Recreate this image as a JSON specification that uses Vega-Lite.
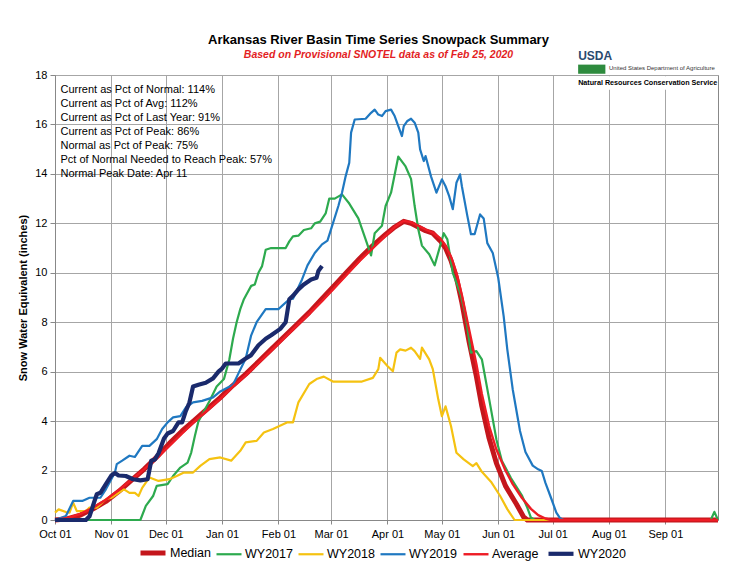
{
  "$schema": "https://vega.github.io/schema/vega-lite/v6.json",
  "autosize": {"type": "none"},
  "width": 663,
  "height": 445,
  "padding": {"left": 55, "top": 75, "right": 26, "bottom": 56},
  "background": "white",
  "title": {
    "text": "Arkansas River Basin Time Series Snowpack Summary",
    "subtitle": "Based on Provisional SNOTEL data as of Feb 25, 2020",
    "anchor": "middle",
    "frame": "group",
    "dx": -8,
    "offset": -11,
    "font": "Liberation Sans",
    "fontSize": 13,
    "fontWeight": "bold",
    "color": "#000000",
    "subtitleFont": "Liberation Sans",
    "subtitleFontSize": 10.5,
    "subtitleFontStyle": "italic",
    "subtitleFontWeight": "bold",
    "subtitleColor": "#E31E24",
    "subtitlePadding": 3
  },
  "datasets": {
    "swe": [
      {"s":"Median","d":"2019-10-01","v":0},{"s":"Median","d":"2019-10-08","v":0.05},{"s":"Median","d":"2019-10-15","v":0.2},{"s":"Median","d":"2019-10-22","v":0.45},{"s":"Median","d":"2019-10-29","v":0.75},{"s":"Median","d":"2019-11-05","v":1.15},{"s":"Median","d":"2019-11-12","v":1.6},{"s":"Median","d":"2019-11-19","v":2.05},{"s":"Median","d":"2019-11-26","v":2.55},{"s":"Median","d":"2019-12-03","v":3.1},{"s":"Median","d":"2019-12-10","v":3.6},{"s":"Median","d":"2019-12-17","v":4.05},{"s":"Median","d":"2019-12-24","v":4.5},{"s":"Median","d":"2019-12-31","v":4.95},{"s":"Median","d":"2020-01-07","v":5.45},{"s":"Median","d":"2020-01-14","v":5.9},{"s":"Median","d":"2020-01-21","v":6.4},{"s":"Median","d":"2020-01-28","v":6.9},{"s":"Median","d":"2020-02-04","v":7.4},{"s":"Median","d":"2020-02-11","v":7.9},{"s":"Median","d":"2020-02-18","v":8.4},{"s":"Median","d":"2020-02-25","v":8.95},{"s":"Median","d":"2020-03-03","v":9.5},{"s":"Median","d":"2020-03-10","v":10.05},{"s":"Median","d":"2020-03-17","v":10.6},{"s":"Median","d":"2020-03-24","v":11.1},{"s":"Median","d":"2020-03-31","v":11.55},{"s":"Median","d":"2020-04-05","v":11.85},{"s":"Median","d":"2020-04-10","v":12.08},{"s":"Median","d":"2020-04-14","v":12.0},{"s":"Median","d":"2020-04-18","v":11.85},{"s":"Median","d":"2020-04-22","v":11.7},{"s":"Median","d":"2020-04-26","v":11.6},{"s":"Median","d":"2020-04-30","v":11.3},{"s":"Median","d":"2020-05-03","v":11.0},{"s":"Median","d":"2020-05-06","v":10.5},{"s":"Median","d":"2020-05-09","v":9.8},{"s":"Median","d":"2020-05-12","v":8.8},{"s":"Median","d":"2020-05-16","v":7.2},{"s":"Median","d":"2020-05-20","v":5.8},{"s":"Median","d":"2020-05-23","v":4.6},{"s":"Median","d":"2020-05-27","v":3.3},{"s":"Median","d":"2020-05-31","v":2.3},{"s":"Median","d":"2020-06-05","v":1.38},{"s":"Median","d":"2020-06-11","v":0.65},{"s":"Median","d":"2020-06-15","v":0.12},{"s":"Median","d":"2020-06-17","v":0},{"s":"Median","d":"2020-09-30","v":0},

      {"s":"WY2017","d":"2019-10-01","v":0},{"s":"WY2017","d":"2019-11-17","v":0},{"s":"WY2017","d":"2019-11-20","v":0.57},{"s":"WY2017","d":"2019-11-24","v":0.97},{"s":"WY2017","d":"2019-11-26","v":1.38},{"s":"WY2017","d":"2019-12-02","v":1.45},{"s":"WY2017","d":"2019-12-05","v":1.78},{"s":"WY2017","d":"2019-12-09","v":2.12},{"s":"WY2017","d":"2019-12-13","v":2.32},{"s":"WY2017","d":"2019-12-15","v":2.73},{"s":"WY2017","d":"2019-12-17","v":3.4},{"s":"WY2017","d":"2019-12-19","v":4.0},{"s":"WY2017","d":"2019-12-22","v":4.4},{"s":"WY2017","d":"2019-12-25","v":4.8},{"s":"WY2017","d":"2019-12-29","v":5.4},{"s":"WY2017","d":"2020-01-02","v":5.7},{"s":"WY2017","d":"2020-01-05","v":6.5},{"s":"WY2017","d":"2020-01-07","v":7.33},{"s":"WY2017","d":"2020-01-09","v":8.0},{"s":"WY2017","d":"2020-01-11","v":8.53},{"s":"WY2017","d":"2020-01-13","v":8.93},{"s":"WY2017","d":"2020-01-15","v":9.2},{"s":"WY2017","d":"2020-01-17","v":9.47},{"s":"WY2017","d":"2020-01-19","v":9.53},{"s":"WY2017","d":"2020-01-21","v":10.0},{"s":"WY2017","d":"2020-01-23","v":10.27},{"s":"WY2017","d":"2020-01-25","v":10.93},{"s":"WY2017","d":"2020-01-28","v":11.0},{"s":"WY2017","d":"2020-02-05","v":11.0},{"s":"WY2017","d":"2020-02-07","v":11.27},{"s":"WY2017","d":"2020-02-09","v":11.47},{"s":"WY2017","d":"2020-02-12","v":11.5},{"s":"WY2017","d":"2020-02-15","v":11.73},{"s":"WY2017","d":"2020-02-19","v":11.8},{"s":"WY2017","d":"2020-02-21","v":12.0},{"s":"WY2017","d":"2020-02-24","v":12.07},{"s":"WY2017","d":"2020-02-27","v":12.4},{"s":"WY2017","d":"2020-02-29","v":13.0},{"s":"WY2017","d":"2020-03-03","v":13.0},{"s":"WY2017","d":"2020-03-07","v":13.17},{"s":"WY2017","d":"2020-03-11","v":12.8},{"s":"WY2017","d":"2020-03-16","v":12.2},{"s":"WY2017","d":"2020-03-20","v":11.35},{"s":"WY2017","d":"2020-03-23","v":10.7},{"s":"WY2017","d":"2020-03-25","v":11.6},{"s":"WY2017","d":"2020-03-29","v":11.9},{"s":"WY2017","d":"2020-03-31","v":12.7},{"s":"WY2017","d":"2020-04-03","v":13.24},{"s":"WY2017","d":"2020-04-07","v":14.7},{"s":"WY2017","d":"2020-04-11","v":14.3},{"s":"WY2017","d":"2020-04-14","v":13.8},{"s":"WY2017","d":"2020-04-16","v":12.7},{"s":"WY2017","d":"2020-04-18","v":11.76},{"s":"WY2017","d":"2020-04-20","v":11.1},{"s":"WY2017","d":"2020-04-24","v":10.75},{"s":"WY2017","d":"2020-04-27","v":10.3},{"s":"WY2017","d":"2020-04-30","v":11.08},{"s":"WY2017","d":"2020-05-02","v":11.6},{"s":"WY2017","d":"2020-05-04","v":11.35},{"s":"WY2017","d":"2020-05-07","v":10.0},{"s":"WY2017","d":"2020-05-11","v":9.2},{"s":"WY2017","d":"2020-05-14","v":8.3},{"s":"WY2017","d":"2020-05-17","v":6.77},{"s":"WY2017","d":"2020-05-20","v":6.83},{"s":"WY2017","d":"2020-05-23","v":6.5},{"s":"WY2017","d":"2020-05-27","v":4.9},{"s":"WY2017","d":"2020-05-31","v":3.26},{"s":"WY2017","d":"2020-06-03","v":2.4},{"s":"WY2017","d":"2020-06-08","v":1.7},{"s":"WY2017","d":"2020-06-14","v":1.0},{"s":"WY2017","d":"2020-06-17","v":0.5},{"s":"WY2017","d":"2020-06-19","v":0.1},{"s":"WY2017","d":"2020-06-21","v":0},{"s":"WY2017","d":"2020-09-26","v":0},{"s":"WY2017","d":"2020-09-28","v":0.33},{"s":"WY2017","d":"2020-09-30","v":0},

      {"s":"WY2018","d":"2019-10-01","v":0.3},{"s":"WY2018","d":"2019-10-03","v":0.43},{"s":"WY2018","d":"2019-10-07","v":0.32},{"s":"WY2018","d":"2019-10-09","v":0.3},{"s":"WY2018","d":"2019-10-11","v":0.7},{"s":"WY2018","d":"2019-10-13","v":0.36},{"s":"WY2018","d":"2019-10-18","v":0.36},{"s":"WY2018","d":"2019-10-20","v":0.5},{"s":"WY2018","d":"2019-10-24","v":0.5},{"s":"WY2018","d":"2019-10-27","v":0.7},{"s":"WY2018","d":"2019-10-29","v":0.84},{"s":"WY2018","d":"2019-11-01","v":0.9},{"s":"WY2018","d":"2019-11-05","v":1.1},{"s":"WY2018","d":"2019-11-08","v":1.24},{"s":"WY2018","d":"2019-11-11","v":1.1},{"s":"WY2018","d":"2019-11-14","v":1.1},{"s":"WY2018","d":"2019-11-16","v":0.97},{"s":"WY2018","d":"2019-11-18","v":1.3},{"s":"WY2018","d":"2019-11-22","v":1.72},{"s":"WY2018","d":"2019-11-27","v":1.58},{"s":"WY2018","d":"2019-12-03","v":1.65},{"s":"WY2018","d":"2019-12-07","v":1.78},{"s":"WY2018","d":"2019-12-11","v":1.92},{"s":"WY2018","d":"2019-12-16","v":1.92},{"s":"WY2018","d":"2019-12-20","v":2.19},{"s":"WY2018","d":"2019-12-25","v":2.46},{"s":"WY2018","d":"2019-12-31","v":2.53},{"s":"WY2018","d":"2020-01-06","v":2.4},{"s":"WY2018","d":"2020-01-11","v":2.8},{"s":"WY2018","d":"2020-01-14","v":3.14},{"s":"WY2018","d":"2020-01-20","v":3.2},{"s":"WY2018","d":"2020-01-24","v":3.54},{"s":"WY2018","d":"2020-01-29","v":3.68},{"s":"WY2018","d":"2020-02-06","v":3.95},{"s":"WY2018","d":"2020-02-09","v":3.95},{"s":"WY2018","d":"2020-02-12","v":4.76},{"s":"WY2018","d":"2020-02-18","v":5.5},{"s":"WY2018","d":"2020-02-22","v":5.7},{"s":"WY2018","d":"2020-02-26","v":5.8},{"s":"WY2018","d":"2020-03-02","v":5.6},{"s":"WY2018","d":"2020-03-10","v":5.6},{"s":"WY2018","d":"2020-03-18","v":5.6},{"s":"WY2018","d":"2020-03-24","v":5.75},{"s":"WY2018","d":"2020-03-27","v":6.1},{"s":"WY2018","d":"2020-03-28","v":6.56},{"s":"WY2018","d":"2020-04-01","v":6.23},{"s":"WY2018","d":"2020-04-04","v":6.02},{"s":"WY2018","d":"2020-04-06","v":6.77},{"s":"WY2018","d":"2020-04-08","v":6.9},{"s":"WY2018","d":"2020-04-11","v":6.85},{"s":"WY2018","d":"2020-04-14","v":6.97},{"s":"WY2018","d":"2020-04-16","v":6.83},{"s":"WY2018","d":"2020-04-19","v":6.52},{"s":"WY2018","d":"2020-04-20","v":6.97},{"s":"WY2018","d":"2020-04-24","v":6.5},{"s":"WY2018","d":"2020-04-26","v":6.1},{"s":"WY2018","d":"2020-04-29","v":4.88},{"s":"WY2018","d":"2020-05-01","v":4.2},{"s":"WY2018","d":"2020-05-03","v":4.6},{"s":"WY2018","d":"2020-05-06","v":3.8},{"s":"WY2018","d":"2020-05-09","v":2.72},{"s":"WY2018","d":"2020-05-13","v":2.45},{"s":"WY2018","d":"2020-05-18","v":2.18},{"s":"WY2018","d":"2020-05-20","v":2.3},{"s":"WY2018","d":"2020-05-23","v":1.95},{"s":"WY2018","d":"2020-05-28","v":1.55},{"s":"WY2018","d":"2020-06-02","v":0.98},{"s":"WY2018","d":"2020-06-06","v":0.44},{"s":"WY2018","d":"2020-06-10","v":0},{"s":"WY2018","d":"2020-09-30","v":0},

      {"s":"WY2019","d":"2019-10-01","v":0},{"s":"WY2019","d":"2019-10-07","v":0.16},{"s":"WY2019","d":"2019-10-11","v":0.77},{"s":"WY2019","d":"2019-10-16","v":0.77},{"s":"WY2019","d":"2019-10-20","v":0.9},{"s":"WY2019","d":"2019-10-26","v":0.9},{"s":"WY2019","d":"2019-10-29","v":1.24},{"s":"WY2019","d":"2019-11-01","v":1.65},{"s":"WY2019","d":"2019-11-03","v":1.92},{"s":"WY2019","d":"2019-11-04","v":2.26},{"s":"WY2019","d":"2019-11-07","v":2.4},{"s":"WY2019","d":"2019-11-11","v":2.6},{"s":"WY2019","d":"2019-11-14","v":2.55},{"s":"WY2019","d":"2019-11-18","v":3.0},{"s":"WY2019","d":"2019-11-22","v":3.0},{"s":"WY2019","d":"2019-11-26","v":3.27},{"s":"WY2019","d":"2019-11-29","v":3.68},{"s":"WY2019","d":"2019-12-02","v":3.95},{"s":"WY2019","d":"2019-12-05","v":4.15},{"s":"WY2019","d":"2019-12-09","v":4.2},{"s":"WY2019","d":"2019-12-12","v":4.55},{"s":"WY2019","d":"2019-12-16","v":4.76},{"s":"WY2019","d":"2019-12-21","v":4.82},{"s":"WY2019","d":"2019-12-27","v":4.96},{"s":"WY2019","d":"2019-12-31","v":5.2},{"s":"WY2019","d":"2020-01-07","v":5.47},{"s":"WY2019","d":"2020-01-10","v":5.93},{"s":"WY2019","d":"2020-01-14","v":6.53},{"s":"WY2019","d":"2020-01-17","v":7.47},{"s":"WY2019","d":"2020-01-20","v":8.0},{"s":"WY2019","d":"2020-01-25","v":8.53},{"s":"WY2019","d":"2020-02-01","v":8.53},{"s":"WY2019","d":"2020-02-07","v":8.93},{"s":"WY2019","d":"2020-02-09","v":8.95},{"s":"WY2019","d":"2020-02-14","v":9.73},{"s":"WY2019","d":"2020-02-17","v":10.3},{"s":"WY2019","d":"2020-02-21","v":10.8},{"s":"WY2019","d":"2020-02-25","v":11.15},{"s":"WY2019","d":"2020-02-28","v":11.3},{"s":"WY2019","d":"2020-03-02","v":12.0},{"s":"WY2019","d":"2020-03-05","v":12.7},{"s":"WY2019","d":"2020-03-07","v":13.24},{"s":"WY2019","d":"2020-03-09","v":13.9},{"s":"WY2019","d":"2020-03-11","v":14.45},{"s":"WY2019","d":"2020-03-12","v":15.67},{"s":"WY2019","d":"2020-03-14","v":16.2},{"s":"WY2019","d":"2020-03-20","v":16.23},{"s":"WY2019","d":"2020-03-23","v":16.47},{"s":"WY2019","d":"2020-03-25","v":16.6},{"s":"WY2019","d":"2020-03-27","v":16.4},{"s":"WY2019","d":"2020-03-29","v":16.34},{"s":"WY2019","d":"2020-03-31","v":16.54},{"s":"WY2019","d":"2020-04-03","v":16.6},{"s":"WY2019","d":"2020-04-05","v":16.34},{"s":"WY2019","d":"2020-04-07","v":15.93},{"s":"WY2019","d":"2020-04-09","v":15.53},{"s":"WY2019","d":"2020-04-10","v":15.93},{"s":"WY2019","d":"2020-04-12","v":16.14},{"s":"WY2019","d":"2020-04-14","v":16.23},{"s":"WY2019","d":"2020-04-16","v":16.07},{"s":"WY2019","d":"2020-04-18","v":15.67},{"s":"WY2019","d":"2020-04-19","v":14.99},{"s":"WY2019","d":"2020-04-21","v":14.52},{"s":"WY2019","d":"2020-04-22","v":14.72},{"s":"WY2019","d":"2020-04-25","v":13.9},{"s":"WY2019","d":"2020-04-28","v":13.24},{"s":"WY2019","d":"2020-05-01","v":13.78},{"s":"WY2019","d":"2020-05-03","v":13.5},{"s":"WY2019","d":"2020-05-05","v":13.1},{"s":"WY2019","d":"2020-05-07","v":12.57},{"s":"WY2019","d":"2020-05-09","v":13.64},{"s":"WY2019","d":"2020-05-11","v":13.98},{"s":"WY2019","d":"2020-05-12","v":13.5},{"s":"WY2019","d":"2020-05-15","v":12.3},{"s":"WY2019","d":"2020-05-17","v":11.56},{"s":"WY2019","d":"2020-05-19","v":11.56},{"s":"WY2019","d":"2020-05-22","v":12.36},{"s":"WY2019","d":"2020-05-24","v":12.2},{"s":"WY2019","d":"2020-05-26","v":11.2},{"s":"WY2019","d":"2020-05-29","v":10.8},{"s":"WY2019","d":"2020-06-01","v":9.8},{"s":"WY2019","d":"2020-06-04","v":8.25},{"s":"WY2019","d":"2020-06-06","v":6.9},{"s":"WY2019","d":"2020-06-09","v":5.28},{"s":"WY2019","d":"2020-06-13","v":3.6},{"s":"WY2019","d":"2020-06-16","v":2.75},{"s":"WY2019","d":"2020-06-20","v":2.2},{"s":"WY2019","d":"2020-06-23","v":2.05},{"s":"WY2019","d":"2020-06-25","v":1.98},{"s":"WY2019","d":"2020-06-27","v":1.5},{"s":"WY2019","d":"2020-06-30","v":0.91},{"s":"WY2019","d":"2020-07-03","v":0.3},{"s":"WY2019","d":"2020-07-05","v":0.08},{"s":"WY2019","d":"2020-07-07","v":0},{"s":"WY2019","d":"2020-09-30","v":0},

      {"s":"Average","d":"2019-10-01","v":0},{"s":"Average","d":"2019-10-08","v":0.08},{"s":"Average","d":"2019-10-15","v":0.25},{"s":"Average","d":"2019-10-22","v":0.5},{"s":"Average","d":"2019-10-29","v":0.82},{"s":"Average","d":"2019-11-05","v":1.2},{"s":"Average","d":"2019-11-12","v":1.62},{"s":"Average","d":"2019-11-19","v":2.05},{"s":"Average","d":"2019-11-26","v":2.5},{"s":"Average","d":"2019-12-03","v":3.0},{"s":"Average","d":"2019-12-10","v":3.5},{"s":"Average","d":"2019-12-17","v":4.0},{"s":"Average","d":"2019-12-24","v":4.45},{"s":"Average","d":"2019-12-31","v":4.9},{"s":"Average","d":"2020-01-07","v":5.4},{"s":"Average","d":"2020-01-14","v":5.85},{"s":"Average","d":"2020-01-21","v":6.35},{"s":"Average","d":"2020-01-28","v":6.85},{"s":"Average","d":"2020-02-04","v":7.35},{"s":"Average","d":"2020-02-11","v":7.85},{"s":"Average","d":"2020-02-18","v":8.35},{"s":"Average","d":"2020-02-25","v":8.85},{"s":"Average","d":"2020-03-03","v":9.4},{"s":"Average","d":"2020-03-10","v":9.95},{"s":"Average","d":"2020-03-17","v":10.5},{"s":"Average","d":"2020-03-24","v":11.0},{"s":"Average","d":"2020-03-31","v":11.5},{"s":"Average","d":"2020-04-05","v":11.85},{"s":"Average","d":"2020-04-10","v":12.1},{"s":"Average","d":"2020-04-14","v":12.05},{"s":"Average","d":"2020-04-18","v":11.9},{"s":"Average","d":"2020-04-22","v":11.75},{"s":"Average","d":"2020-04-26","v":11.62},{"s":"Average","d":"2020-04-30","v":11.4},{"s":"Average","d":"2020-05-03","v":11.1},{"s":"Average","d":"2020-05-06","v":10.65},{"s":"Average","d":"2020-05-09","v":10.0},{"s":"Average","d":"2020-05-12","v":9.1},{"s":"Average","d":"2020-05-16","v":7.7},{"s":"Average","d":"2020-05-20","v":6.3},{"s":"Average","d":"2020-05-23","v":5.1},{"s":"Average","d":"2020-05-27","v":3.8},{"s":"Average","d":"2020-05-31","v":2.85},{"s":"Average","d":"2020-06-05","v":2.0},{"s":"Average","d":"2020-06-09","v":1.45},{"s":"Average","d":"2020-06-14","v":0.9},{"s":"Average","d":"2020-06-19","v":0.45},{"s":"Average","d":"2020-06-23","v":0.2},{"s":"Average","d":"2020-06-27","v":0.06},{"s":"Average","d":"2020-06-30","v":0},{"s":"Average","d":"2020-09-30","v":0},

      {"s":"WY2020","d":"2019-10-01","v":0},{"s":"WY2020","d":"2019-10-18","v":0},{"s":"WY2020","d":"2019-10-20","v":0.15},{"s":"WY2020","d":"2019-10-22","v":0.6},{"s":"WY2020","d":"2019-10-24","v":1.04},{"s":"WY2020","d":"2019-10-26","v":1.1},{"s":"WY2020","d":"2019-10-29","v":1.45},{"s":"WY2020","d":"2019-11-01","v":1.8},{"s":"WY2020","d":"2019-11-03","v":1.9},{"s":"WY2020","d":"2019-11-05","v":1.8},{"s":"WY2020","d":"2019-11-09","v":1.78},{"s":"WY2020","d":"2019-11-13","v":1.65},{"s":"WY2020","d":"2019-11-17","v":1.6},{"s":"WY2020","d":"2019-11-21","v":1.65},{"s":"WY2020","d":"2019-11-23","v":2.4},{"s":"WY2020","d":"2019-11-25","v":2.45},{"s":"WY2020","d":"2019-11-27","v":2.7},{"s":"WY2020","d":"2019-11-30","v":3.3},{"s":"WY2020","d":"2019-12-02","v":3.5},{"s":"WY2020","d":"2019-12-05","v":3.6},{"s":"WY2020","d":"2019-12-08","v":3.95},{"s":"WY2020","d":"2019-12-10","v":3.95},{"s":"WY2020","d":"2019-12-12","v":4.4},{"s":"WY2020","d":"2019-12-14","v":4.75},{"s":"WY2020","d":"2019-12-16","v":5.4},{"s":"WY2020","d":"2019-12-19","v":5.47},{"s":"WY2020","d":"2019-12-23","v":5.55},{"s":"WY2020","d":"2019-12-27","v":5.73},{"s":"WY2020","d":"2019-12-30","v":6.0},{"s":"WY2020","d":"2020-01-01","v":6.13},{"s":"WY2020","d":"2020-01-03","v":6.33},{"s":"WY2020","d":"2020-01-10","v":6.33},{"s":"WY2020","d":"2020-01-14","v":6.53},{"s":"WY2020","d":"2020-01-17","v":6.67},{"s":"WY2020","d":"2020-01-21","v":7.07},{"s":"WY2020","d":"2020-01-25","v":7.33},{"s":"WY2020","d":"2020-01-28","v":7.47},{"s":"WY2020","d":"2020-02-02","v":7.73},{"s":"WY2020","d":"2020-02-05","v":8.0},{"s":"WY2020","d":"2020-02-07","v":8.93},{"s":"WY2020","d":"2020-02-09","v":9.07},{"s":"WY2020","d":"2020-02-12","v":9.33},{"s":"WY2020","d":"2020-02-15","v":9.53},{"s":"WY2020","d":"2020-02-19","v":9.73},{"s":"WY2020","d":"2020-02-22","v":9.8},{"s":"WY2020","d":"2020-02-23","v":10.07},{"s":"WY2020","d":"2020-02-25","v":10.27}
    ]
  },
  "layer": [
    {
      "data": {"name": "swe"},
      "mark": {"type": "line", "strokeJoin": "round"},
      "encoding": {
        "x": {
          "field": "d", "type": "temporal",
          "scale": {"type": "utc", "domain": ["2019-10-01T00:00:00Z", "2020-09-30T00:00:00Z"], "nice": false},
          "axis": {"format": "%b %d", "tickCount": {"interval": "month", "step": 1}, "title": null, "labelFlush": false, "labelFontSize": 11, "labelFont": "Liberation Sans", "labelColor": "#000", "tickSize": 4, "labelPadding": 4, "domainColor": "#888", "tickColor": "#888", "gridColor": "#a6a6a6"}
        },
        "y": {
          "field": "v", "type": "quantitative",
          "scale": {"domain": [0, 18], "nice": false, "zero": true},
          "axis": {"values": [0,2,4,6,8,10,12,14,16,18], "title": "Snow Water Equivalent (inches)", "titleFontSize": 11, "titleFontWeight": "bold", "titleFont": "Liberation Sans", "titleColor": "#000", "titlePadding": 6, "labelFontSize": 11, "labelFont": "Liberation Sans", "labelColor": "#000", "tickSize": 5, "labelPadding": 3, "domainColor": "#888", "tickColor": "#888", "gridColor": "#a6a6a6"}
        },
        "color": {
          "field": "s", "type": "nominal", "title": null,
          "scale": {"domain": ["Median", "WY2017", "WY2018", "WY2019", "Average", "WY2020"], "range": ["#C4161C", "#2DAA4E", "#F5C211", "#1F78C1", "#EE1C25", "#1A2A6C"]},
          "legend": {"orient": "none", "legendX": 83, "legendY": 463, "direction": "horizontal", "symbolType": "stroke", "symbolSize": 625, "labelFontSize": 12.5, "labelFont": "Liberation Sans", "labelColor": "#000", "columnPadding": 1, "labelOffset": 2}
        },
        "strokeWidth": {
          "field": "s", "type": "nominal", "title": null,
          "scale": {"type": "ordinal", "domain": ["Median", "WY2017", "WY2018", "WY2019", "Average", "WY2020"], "range": [5, 2.2, 2.2, 2.2, 2.4, 4.2]},
          "legend": {"orient": "none", "legendX": 83, "legendY": 463, "direction": "horizontal", "symbolType": "stroke", "symbolSize": 625, "labelFontSize": 12.5, "labelFont": "Liberation Sans", "labelColor": "#000", "columnPadding": 1, "labelOffset": 2}
        }
      }
    },
    {
      "data": {"values": [{}]},
      "mark": {"type": "text", "align": "left", "baseline": "top", "font": "Liberation Sans", "fontSize": 11, "lineHeight": 14, "color": "#000",
        "text": ["Current as Pct of Normal: 114%", "Current as Pct of Avg: 112%", "Current as Pct of Last Year: 91%", "Current as Pct of Peak: 86%", "Normal as Pct of Peak: 75%", "Pct of Normal Needed to Reach Peak: 57%", "Normal Peak Date: Apr 11"]},
      "encoding": {
        "x": {"datum": {"year": 2019, "month": 10, "date": 4, "utc": true}, "type": "temporal"},
        "y": {"datum": 17.64, "type": "quantitative"}
      }
    },
    {
      "data": {"values": [{}]},
      "mark": {"type": "text", "align": "left", "baseline": "middle", "font": "Liberation Sans", "fontSize": 12, "fontWeight": "bold", "color": "#2B4A6F", "text": "USDA"},
      "encoding": {
        "x": {"datum": {"year": 2020, "month": 7, "date": 15, "utc": true}, "type": "temporal"},
        "y": {"datum": 18.77, "type": "quantitative"}
      }
    },
    {
      "data": {"values": [{}]},
      "mark": {"type": "rect", "color": "#2E8B3E"},
      "encoding": {
        "x": {"datum": {"year": 2020, "month": 7, "date": 15, "utc": true}, "type": "temporal"},
        "x2": {"datum": {"year": 2020, "month": 7, "date": 30, "utc": true}},
        "y": {"datum": 18.42, "type": "quantitative"},
        "y2": {"datum": 18.05}
      }
    },
    {
      "data": {"values": [{}]},
      "mark": {"type": "text", "align": "left", "baseline": "middle", "font": "Liberation Sans", "fontSize": 6, "color": "#333", "text": "United States Department of Agriculture"},
      "encoding": {
        "x": {"datum": {"year": 2020, "month": 8, "date": 1, "utc": true}, "type": "temporal"},
        "y": {"datum": 18.3, "type": "quantitative"}
      }
    },
    {
      "data": {"values": [{}]},
      "mark": {"type": "rect", "color": "white"},
      "encoding": {
        "x": {"datum": {"year": 2020, "month": 7, "date": 13, "utc": true}, "type": "temporal"},
        "x2": {"datum": {"year": 2020, "month": 9, "date": 29, "utc": true}},
        "y": {"datum": 17.95, "type": "quantitative"},
        "y2": {"datum": 17.4}
      }
    },
    {
      "data": {"values": [{}]},
      "mark": {"type": "text", "align": "left", "baseline": "middle", "font": "Liberation Sans", "fontSize": 7.2, "fontWeight": "bold", "color": "#000", "text": "Natural Resources Conservation Service"},
      "encoding": {
        "x": {"datum": {"year": 2020, "month": 7, "date": 15, "utc": true}, "type": "temporal"},
        "y": {"datum": 17.68, "type": "quantitative"}
      }
    }
  ],
  "config": {
    "font": "Liberation Sans",
    "view": {"stroke": "#888", "strokeWidth": 1},
    "axis": {"gridWidth": 1}
  }
}
